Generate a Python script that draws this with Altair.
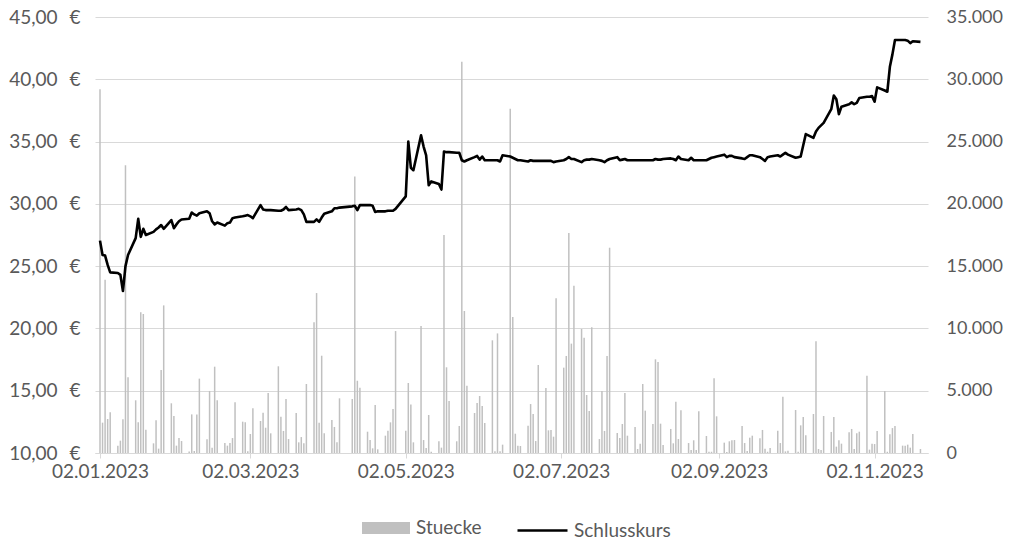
import altair as alt
import pandas as pd

# ---- Schlusskurs (EUR), one value per trading day, by month ----
price_jan = [27.05, 25.9, 25.85, 25.1, 24.5,
             24.45, 24.3, 23.0, 25.0, 25.9,
             27.25, 28.8, 27.35, 28.0, 27.5,
             27.75, 27.95, 28.1, 28.3, 28.0,
             28.7, 28.05]
price_feb = [28.35, 28.6, 28.75,
             28.8, 29.3, 29.15, 29.05, 29.25,
             29.4, 29.25, 28.6, 28.35, 28.5,
             28.25, 28.45, 28.5, 28.85, 28.9,
             29.0, 29.05]
price_mar = [29.1, 29.0, 28.85,
             29.9, 29.55, 29.5, 29.5, 29.5,
             29.45, 29.45, 29.55, 29.75, 29.5,
             29.55, 29.6, 29.5, 29.15, 28.55,
             28.55, 28.75, 28.55, 28.9, 29.2]
price_apr = [29.4, 29.65, 29.65, 29.7,
             29.8, 29.85, 29.5, 29.9,
             29.9, 29.9, 29.85, 29.35, 29.4,
             29.4, 29.45, 29.45, 29.45, 29.6]
price_may = [30.6, 35.0, 32.9, 32.7,
             35.5, 34.6, 33.9, 31.5, 31.8,
             31.6, 31.15, 34.2, 34.15, 34.15,
             34.1, 34.1, 33.5, 33.4, 33.5,
             33.75, 33.85, 33.55]
price_jun = [33.8, 33.5,
             33.5, 33.5, 33.5, 33.4, 33.9,
             33.8, 33.7, 33.6, 33.5, 33.5,
             33.4, 33.5, 33.45, 33.45, 33.45,
             33.45, 33.45, 33.45, 33.35, 33.4]
price_jul = [33.5, 33.6, 33.75, 33.6, 33.6,
             33.35, 33.5, 33.55, 33.55, 33.6,
             33.5, 33.45, 33.35, 33.5, 33.6,
             33.75, 33.5, 33.55, 33.6, 33.5,
             33.5]
price_aug = [33.5, 33.5, 33.5, 33.5,
             33.5, 33.6, 33.55, 33.55, 33.6,
             33.65, 33.6, 33.5, 33.8, 33.6,
             33.5, 33.7, 33.5, 33.5, 33.5,
             33.5, 33.6, 33.7, 33.75]
price_sep = [33.8,
             33.95, 33.75, 33.85, 33.85, 33.75,
             33.65, 33.6, 33.75, 33.9, 33.9,
             33.75, 33.6, 33.45, 33.75, 33.8,
             33.9, 33.8, 33.95, 34.1, 33.95]
price_oct = [33.7, 33.75, 33.8, 34.7, 35.6,
             35.3, 35.8, 36.1, 36.3, 36.5,
             37.6, 38.7, 38.4, 37.2, 37.8,
             38.0, 38.15, 38.0, 38.1, 38.5,
             38.6, 38.6]
price_nov = [38.65, 38.2, 39.35,
             39.1, 39.0, 41.0, 42.0, 43.15,
             43.15, 43.15, 43.1, 42.9, 43.05,
             43.0]

# ---- Stuecke (volume), one value per trading day, by month ----
vol_jan = [29200, 2435, 13900, 2730, 3265,
           590, 990, 2700, 23100, 6075,
           4230, 2460, 11290, 11160, 1870,
           776, 2620, 350, 6660, 11850,
           3990, 2970]
vol_feb = [590, 1200, 960,
           130, 3100, 160, 3100, 5970,
           1100, 4980, 430, 6930, 4230,
           800, 590, 800, 1200, 4070,
           2515, 2460]
vol_mar = [150, 1525, 3590,
           2570, 3240, 2030, 4820, 1580,
           6960, 2920, 1770, 4335, 1120,
           3210, 856, 1280, 776, 5540,
           10490, 12840, 2435, 7810, 1580]
vol_apr = [2650, 2090, 856, 4390,
           4335, 22200, 5800, 5245,
           1710, 1040, 375, 3850, 295,
           1390, 1790, 2460, 3530, 9790]
vol_may = [1790, 5620, 3900, 856,
           10200, 1040, 400, 3050, 100,
           940, 430, 17500, 6880, 4175,
           940, 2170, 31400, 11400, 5400,
           3210, 4010, 4575]
vol_jun = [3770, 2410,
           9045, 150, 9600, 150, 670,
           27640, 10920, 1550, 590, 560,
           2190, 3930, 3130, 960, 7065,
           5220, 1820, 1850, 1310, 12420]
vol_jul = [6850, 7790, 17660, 8780, 13430,
           9955, 9260, 4655, 3370, 10090,
           1120, 4980, 1770, 7790, 16480,
           1600, 1200, 2330, 4820, 1390,
           2090]
vol_aug = [320, 750, 5540, 3400,
           2330, 7520, 7300, 2355, 640,
           1930, 776, 4120, 1120, 3425,
           800, 240, 1020, 240, 3345,
           1365, 100, 100, 5995]
vol_sep = [2945,
           830, 80, 940, 1020, 1040,
           2170, 800, 160, 1230, 1390,
           1180, 1850, 350, 100, 400,
           1790, 800, 4520, 130, 190]
vol_oct = [3450, 100, 2220, 2890, 1420,
           3130, 8965, 320, 240, 2970,
           1690, 2890, 510, 1020, 750,
           1660, 1930, 320, 1580, 1710,
           6210, 270]
vol_nov = [750, 720, 1770,
           4980, 100, 1500, 2000, 2170,
           590, 590, 670, 430, 1525,
           320]

holidays = ["2023-04-07", "2023-04-10", "2023-05-01"]
tick_dates = [(2023, 1, 2), (2023, 3, 2), (2023, 5, 2), (2023, 7, 2), (2023, 9, 2), (2023, 11, 2)]

prices = (price_jan + price_feb + price_mar + price_apr + price_may + price_jun
          + price_jul + price_aug + price_sep + price_oct + price_nov)
vols = (vol_jan + vol_feb + vol_mar + vol_apr + vol_may + vol_jun
        + vol_jul + vol_aug + vol_sep + vol_oct + vol_nov)

days = [d.strftime("%Y-%m-%d") for d in pd.bdate_range("2023-01-02", "2023-11-20")]
days = [d for d in days if d not in holidays]
assert len(days) == len(prices) == len(vols), (len(days), len(prices), len(vols))

df = pd.DataFrame({"Datum": days, "Schlusskurs": prices, "Stuecke": vols,
                   "s1": "Stuecke", "s2": "Schlusskurs"})

FONT = "Lato"
TXT = "#595959"
GRID = "#d9d9d9"

x_enc = alt.X(
    "Datum:T",
    scale=alt.Scale(type="utc",
                    domain=[alt.DateTime(year=2023, month=1, date=2, utc=True),
                            alt.DateTime(year=2023, month=11, date=21, utc=True)]),
    axis=alt.Axis(
        title=None,
        values=[alt.DateTime(year=y, month=m, date=d, utc=True) for (y, m, d) in tick_dates],
        labelExpr="utcFormat(datum.value, '%d.%m.%Y')",
        grid=False, domainColor=GRID, domainWidth=1, tickColor=GRID, tickSize=5,
        labelPadding=4, labelFont=FONT, labelFontSize=19, labelColor=TXT,
        labelOverlap=False, labelFlush=False,
    ),
)

bars = alt.Chart(df).mark_bar(width=1.5).encode(
    x=x_enc,
    y=alt.Y("Stuecke:Q",
            scale=alt.Scale(domain=[0, 35000], nice=False, zero=True),
            axis=alt.Axis(orient="right", title=None, values=list(range(0, 35001, 5000)),
                          labelExpr="replace(format(datum.value, ','), ',', '.')",
                          grid=False, domain=False, ticks=False, labelPadding=18,
                          labelAlign="left", labelFont=FONT, labelFontSize=18, labelColor=TXT)),
    fill=alt.Fill("s1:N", scale=alt.Scale(domain=["Stuecke"], range=["#c0c0c0"]),
                  legend=alt.Legend(title=None, orient="none", legendX=267, legendY=487,
                                    symbolType="M-1,-0.25H1V0.25H-1Z", symbolSize=2304,
                                    symbolStrokeWidth=0, labelFont=FONT, labelFontSize=19,
                                    labelColor=TXT, padding=0, labelOffset=6)),
)

line = alt.Chart(df).mark_line(strokeWidth=2.6, strokeJoin="round").encode(
    x=x_enc,
    y=alt.Y("Schlusskurs:Q",
            scale=alt.Scale(domain=[10, 45], nice=False, zero=False),
            axis=alt.Axis(orient="left", title=None, values=list(range(10, 46, 5)),
                          labelExpr="replace(format(datum.value, '.2f'), '.', ',') + '\u2002\u2009€'",
                          grid=True, gridColor=GRID, gridWidth=1, domain=False, ticks=False,
                          labelPadding=15, labelFont=FONT, labelFontSize=19, labelColor=TXT)),
    stroke=alt.Stroke("s2:N", scale=alt.Scale(domain=["Schlusskurs"], range=["#000000"]),
                      legend=alt.Legend(title=None, orient="none", legendX=421, legendY=487,
                                        symbolType="stroke", symbolSize=2500,
                                        symbolStrokeWidth=2.6, labelFont=FONT, labelFontSize=19,
                                        labelColor=TXT, padding=0, labelOffset=5)),
)

chart = alt.layer(bars, line).resolve_scale(
    y="independent", fill="independent", stroke="independent"
).properties(
    width=833, height=436,
    autosize=alt.AutoSizeParams(type="none"),
    padding={"left": 95, "top": 17, "right": 82, "bottom": 91},
    background="white",
).configure_view(stroke=None)

chart.save("out.html", embed_options={"renderer": "svg", "actions": False})
